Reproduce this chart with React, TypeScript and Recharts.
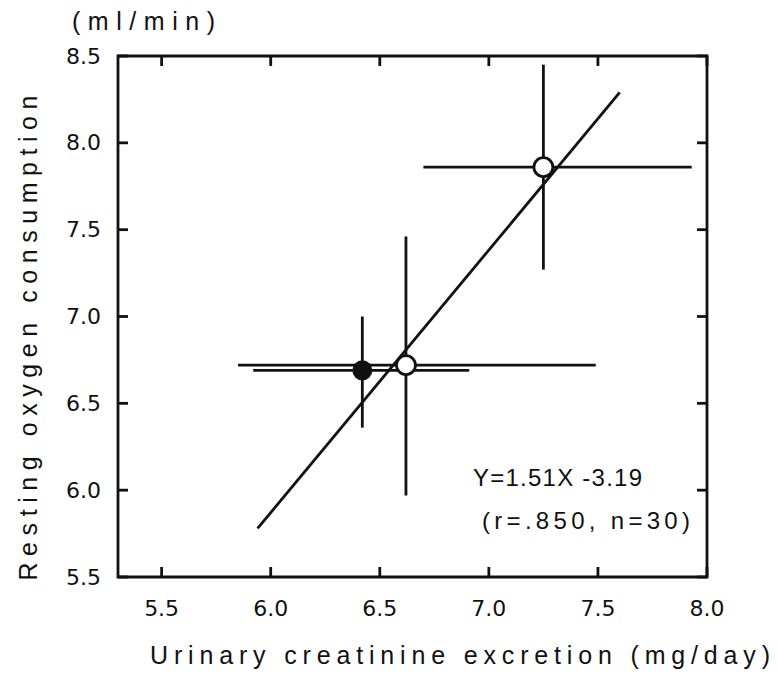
import React from 'react';
import {
  ComposedChart,
  Scatter,
  XAxis,
  YAxis,
  ErrorBar,
  ReferenceLine,
  ReferenceArea,
} from 'recharts';

// axis ticks
const xTicks = [5.5, 6.0, 6.5, 7.0, 7.5, 8.0];
const yTicks = [5.5, 6.0, 6.5, 7.0, 7.5, 8.0, 8.5];
const xDomain = [5.3, 8.0];
const yDomain = [5.5, 8.5];

// filled circle (mean with range bars)
const filledX = [6.42];
const filledY = [6.69];
const filledXLow = [5.92];
const filledXHigh = [6.91];
const filledYLow = [6.36];
const filledYHigh = [7.0];

// open circles
const openX = [6.62, 7.25];
const openY = [6.72, 7.86];
const openXLow = [5.85, 6.7];
const openXHigh = [7.49, 7.93];
const openYLow = [5.97, 7.27];
const openYHigh = [7.46, 8.45];

// regression line ends  Y = 1.51X - 3.19
const regX = [5.94, 7.6];
const regY = [5.78, 8.29];

const INK = '#111';
const FONT = '"Liberation Sans", Arial, sans-serif';
const TICK_FONT = '"DejaVu Sans", "Liberation Sans", sans-serif';
const LW = 2.8;

const build = (
  xs: number[],
  ys: number[],
  xl: number[],
  xh: number[],
  yl: number[],
  yh: number[]
) =>
  xs.map((x, i) => ({
    x,
    y: ys[i],
    ex: [x - xl[i], xh[i] - x],
    ey: [ys[i] - yl[i], yh[i] - ys[i]],
  }));

const filledData = build(filledX, filledY, filledXLow, filledXHigh, filledYLow, filledYHigh);
const openData = build(openX, openY, openXLow, openXHigh, openYLow, openYHigh);

const W = 770;
const H = 669;
// plot box inside the chart svg
const BOX = { left: 110, right: 699, top: 48, bottom: 569 };
const TICK = 10;

const fmt = (v: number) => v.toFixed(1);

// inward ticks on bottom and top edges + label under the bottom
const renderXTick = (props: any) => {
  const { x, payload, index } = props;
  return (
    <g key={`xt-${index}`}>
      <line x1={x} x2={x} y1={BOX.bottom} y2={BOX.bottom - TICK} stroke={INK} strokeWidth={LW} />
      <line x1={x} x2={x} y1={BOX.top} y2={BOX.top + TICK} stroke={INK} strokeWidth={LW} />
      <text
        x={x}
        y={BOX.bottom + 31}
        textAnchor="middle"
        dominantBaseline="central"
        fontSize={22}
        fontFamily={TICK_FONT}
        fill={INK}
      >
        {fmt(payload.value)}
      </text>
    </g>
  );
};

// inward ticks on left and right edges + label left of the box
const renderYTick = (props: any) => {
  const { y, payload, index } = props;
  return (
    <g key={`yt-${index}`}>
      <line x1={BOX.left} x2={BOX.left + TICK} y1={y} y2={y} stroke={INK} strokeWidth={LW} />
      <line x1={BOX.right} x2={BOX.right - TICK} y1={y} y2={y} stroke={INK} strokeWidth={LW} />
      <text
        x={BOX.left - 17}
        y={y}
        textAnchor="end"
        dominantBaseline="central"
        fontSize={22}
        fontFamily={TICK_FONT}
        fill={INK}
      >
        {fmt(payload.value)}
      </text>
    </g>
  );
};

export default function App() {
  return (
    <div style={{ position: 'relative', width: W, height: H, background: '#fff' }}>
      <ComposedChart
        width={W}
        height={H}
        margin={{ top: BOX.top, right: W - BOX.right, bottom: 0, left: 0 }}
      >
        <XAxis
          dataKey="x"
          type="number"
          domain={xDomain}
          ticks={xTicks}
          allowDataOverflow
          height={H - BOX.bottom}
          axisLine={false}
          tickLine={false}
          tick={renderXTick}
        />
        <YAxis
          dataKey="y"
          type="number"
          domain={yDomain}
          ticks={yTicks}
          allowDataOverflow
          width={BOX.left}
          axisLine={false}
          tickLine={false}
          tick={renderYTick}
        />
        {/* frame */}
        <ReferenceArea
          x1={xDomain[0]}
          x2={xDomain[1]}
          y1={yDomain[0]}
          y2={yDomain[1]}
          fill="none"
          stroke={INK}
          strokeWidth={LW}
          ifOverflow="visible"
        />
        <ReferenceLine
          segment={[
            { x: regX[0], y: regY[0] },
            { x: regX[1], y: regY[1] },
          ]}
          stroke={INK}
          strokeWidth={LW}
          ifOverflow="visible"
        />
        <Scatter
          data={filledData}
          isAnimationActive={false}
          shape={(p: any) => <circle cx={p.cx} cy={p.cy} r={10} fill={INK} />}
        >
          <ErrorBar dataKey="ex" direction="x" width={0} stroke={INK} strokeWidth={LW} />
          <ErrorBar dataKey="ey" direction="y" width={0} stroke={INK} strokeWidth={LW} />
        </Scatter>
        <Scatter
          data={openData}
          isAnimationActive={false}
          shape={(p: any) => (
            <circle cx={p.cx} cy={p.cy} r={9.5} fill="#fff" stroke={INK} strokeWidth={LW} />
          )}
        >
          <ErrorBar dataKey="ex" direction="x" width={0} stroke={INK} strokeWidth={LW} />
          <ErrorBar dataKey="ey" direction="y" width={0} stroke={INK} strokeWidth={LW} />
        </Scatter>
      </ComposedChart>
      <svg
        width={W}
        height={H}
        style={{ position: 'absolute', left: 0, top: 0, pointerEvents: 'none' }}
        fontFamily={FONT}
        fill={INK}
      >
        <text x={64} y={13} fontSize={25} dominantBaseline="central" textLength={143} lengthAdjust="spacing">
          (ml/min)
        </text>
        <text
          x={0}
          y={0}
          fontSize={25}
          textAnchor="middle"
          dominantBaseline="central"
          textLength={485}
          lengthAdjust="spacing"
          transform="translate(20,330) rotate(-90)"
        >
          Resting oxygen consumption
        </text>
        <text x={142} y={647} fontSize={25} dominantBaseline="central" textLength={620} lengthAdjust="spacing">
          Urinary creatinine excretion (mg/day)
        </text>
        <text x={465} y={469} fontSize={24} dominantBaseline="central" textLength={169} lengthAdjust="spacing">
          Y=1.51X -3.19
        </text>
        <text x={474} y={512} fontSize={24} dominantBaseline="central" textLength={208} lengthAdjust="spacing">
          (r=.850, n=30)
        </text>
      </svg>
    </div>
  );
}
